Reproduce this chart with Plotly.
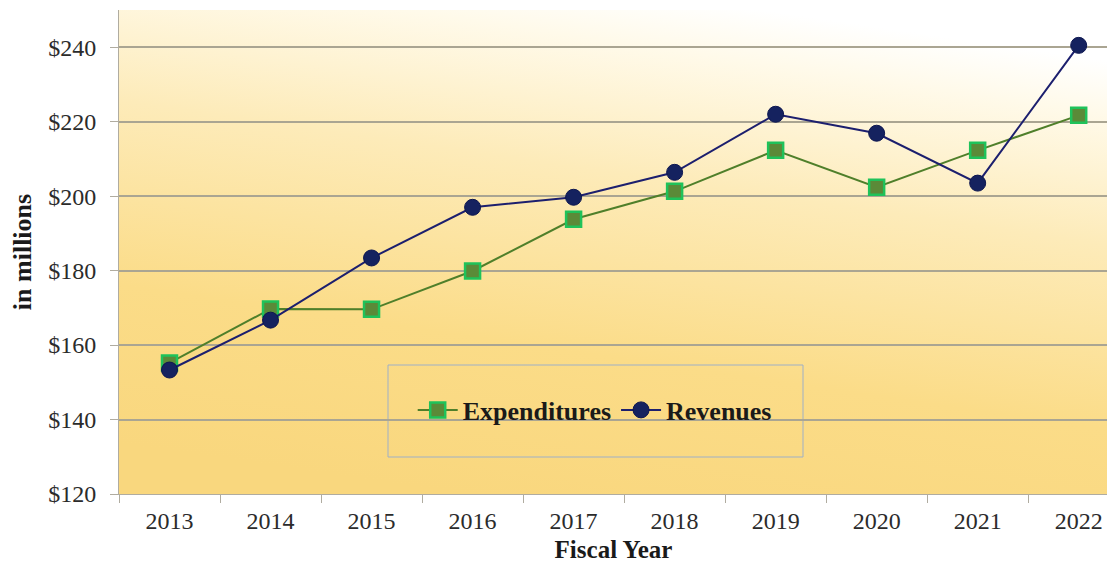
import plotly.graph_objects as go
from urllib.parse import quote

years = ["2013", "2014", "2015", "2016", "2017", "2018", "2019", "2020", "2021", "2022"]
expenditures = [155.2, 169.7, 169.6, 179.9, 193.8, 201.3, 212.3, 202.4, 212.3, 221.7]
revenues = [153.3, 166.7, 183.4, 197.0, 199.7, 206.4, 222.0, 216.9, 203.5, 240.5]
y_tickvals = [120, 140, 160, 180, 200, 220, 240]
y_ticktext = ["$120", "$140", "$160", "$180", "$200", "$220", "$240"]

FONT = "Liberation Serif"

svg = (
    '<svg xmlns="http://www.w3.org/2000/svg" width="1000" height="500" preserveAspectRatio="none">'
    '<defs><linearGradient id="g" x1="0.35" y1="1" x2="0.65" y2="0">'
    '<stop offset="0" stop-color="#f9d77e"/>'
    '<stop offset="0.3" stop-color="#fbdc88"/>'
    '<stop offset="0.65" stop-color="#fdebb9"/>'
    '<stop offset="0.9" stop-color="#fffaea"/>'
    '<stop offset="1" stop-color="#ffffff"/>'
    '</linearGradient></defs>'
    '<rect width="1000" height="500" fill="url(#g)"/></svg>'
)
img_src = "data:image/svg+xml;charset=utf-8," + quote(svg)

fig = go.Figure()
fig.add_trace(go.Scatter(
    x=years, y=expenditures, name="Expenditures", mode="lines+markers",
    line=dict(color="#4f7f2a", width=2),
    marker=dict(symbol="square", size=15, color="#5b8a38",
                line=dict(color="#1fc25a", width=2.5)),
))
fig.add_trace(go.Scatter(
    x=years, y=revenues, name="Revenues", mode="lines+markers",
    line=dict(color="#1c1f6e", width=2),
    marker=dict(symbol="circle", size=16, color="#15225f",
                line=dict(color="#0d1650", width=1)),
))

fig.update_layout(
    width=1107, height=559,
    margin=dict(l=111, r=7, t=2, b=73),
    paper_bgcolor="white",
    plot_bgcolor="rgba(0,0,0,0)",
    font=dict(family=FONT, size=24, color="#2b2b2b"),
    showlegend=True,
    legend=dict(
        orientation="h", x=0.481, y=0.1736, xanchor="center", yanchor="middle",
        bgcolor="rgba(0,0,0,0)", borderwidth=0,
        font=dict(family=FONT, size=26, color="#1a1a1a", weight="bold"),
        itemwidth=40, tracegroupgap=0,
    ),
    images=[dict(source=img_src, xref="paper", yref="paper", x=0, y=1,
                 sizex=1, sizey=1, sizing="stretch", layer="below",
                 xanchor="left", yanchor="top")],
    shapes=[dict(type="rect", xref="paper", yref="paper",
                 x0=(388 - 119) / 989, x1=(803 - 119) / 989,
                 y0=(494 - 457) / 484, y1=(494 - 365) / 484,
                 line=dict(color="#9fb0c6", width=1), fillcolor="rgba(0,0,0,0)",
                 layer="below")],
)

fig.update_xaxes(
    type="category", range=[-0.5, 9.29],
    showline=True, linecolor="#b0aca0", linewidth=1,
    ticks="outside", tickson="boundaries", ticklen=8, tickcolor="#b0aca0",
    ticklabelstandoff=5,
    showgrid=False, zeroline=False, automargin=False,
    tickfont=dict(family=FONT, size=24, color="#2b2b2b"),
    title=dict(text="Fiscal Year", standoff=7,
               font=dict(family=FONT, size=25, color="#1a1a1a", weight="bold")),
)
fig.update_yaxes(
    range=[120, 250], tickvals=y_tickvals, ticktext=y_ticktext,
    showline=True, linecolor="#b0aca0", linewidth=1,
    ticks="outside", ticklen=8, tickcolor="#b0aca0", ticklabelstandoff=9,
    showgrid=True, gridcolor="#aaa592", gridwidth=1.5, zeroline=False,
    automargin=False,
    tickfont=dict(family=FONT, size=24, color="#2b2b2b"),
    title=dict(text="in millions", standoff=9,
               font=dict(family=FONT, size=26, color="#1a1a1a", weight="bold")),
)

fig.write_html("out.html")
